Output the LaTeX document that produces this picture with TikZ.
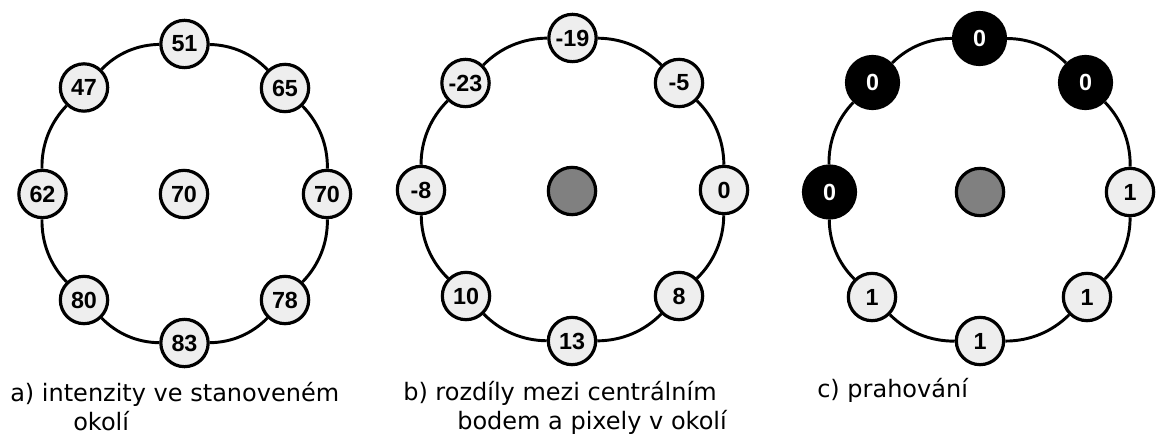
\documentclass[tikz,border=0pt]{standalone}
\usepackage{fontspec}
\setmainfont{DejaVu Sans}
\newfontfamily\numfont{Liberation Sans}
\definecolor{nodegray}{HTML}{EEEEEE}
\definecolor{midgray}{HTML}{808080}
\begin{document}
\begin{tikzpicture}[x=0.75pt,y=-0.75pt,
  ring/.style={line width=2.2pt,looseness=0.9},
  pix/.style={circle,draw=black,line width=2.4pt,fill=nodegray,minimum size=35.5pt,inner sep=0pt,
    font=\numfont\bfseries\fontsize{17.5}{19}\selectfont},
  dark/.style={pix,fill=black,text=white,minimum size=39pt},
  mid/.style={pix,fill=midgray},
  captext/.style={anchor=base west,inner sep=0pt,font=\fontsize{18}{20}\selectfont}]
\useasboundingbox (0,0) rectangle (1157,435);
% panel a
\node[pix] (a0) at (184.5,44) {51};
\node[pix] (a1) at (285,88) {65};
\node[pix] (a2) at (327,194) {70};
\node[pix] (a3) at (285,300) {78};
\node[pix] (a4) at (184.5,343) {83};
\node[pix] (a5) at (84,300) {80};
\node[pix] (a6) at (42.5,194) {62};
\node[pix] (a7) at (84,87.5) {47};
\node[pix] (ac) at (184,194) {70};
% panel b
\node[pix] (b0) at (572.5,38) {-19};
\node[pix] (b1) at (679,83) {-5};
\node[pix] (b2) at (724,190) {0};
\node[pix] (b3) at (679,296) {8};
\node[pix] (b4) at (572,341) {13};
\node[pix] (b5) at (466,296) {10};
\node[pix] (b6) at (421,190) {-8};
\node[pix] (b7) at (465.5,83) {-23};
\node[mid] (bc) at (572,191) {};
% panel c
\node[dark] (c0) at (979.5,38.5) {0};
\node[dark] (c1) at (1085.5,82.5) {0};
\node[pix] (c2) at (1130,192) {1};
\node[pix] (c3) at (1087,297) {1};
\node[pix] (c4) at (980,341) {1};
\node[pix] (c5) at (872,297) {1};
\node[dark] (c6) at (829.5,192) {0};
\node[dark] (c7) at (872.5,82.5) {0};
\node[mid] (cc) at (980,192) {};
% rings
\foreach \p in {a,b,c}{
  \foreach \i [evaluate=\i as \j using {int(mod(\i+1,8))}] in {0,...,7}{
    \draw[ring] (\p\i) to[bend left=22.5] (\p\j);
  }
}
% captions
\node[captext] (capa1) at (10,401) {a) intenzity ve stanoveném};
\node[captext] (capa2) at (73,430) {okolí};
\node[captext] (capb1) at (403,400) {b) rozdíly mezi centrálním};
\node[captext] (capb2) at (457,429) {bodem a pixely v okolí};
\node[captext] (capc) at (817,397) {c) prahování};
\end{tikzpicture}
\end{document}
